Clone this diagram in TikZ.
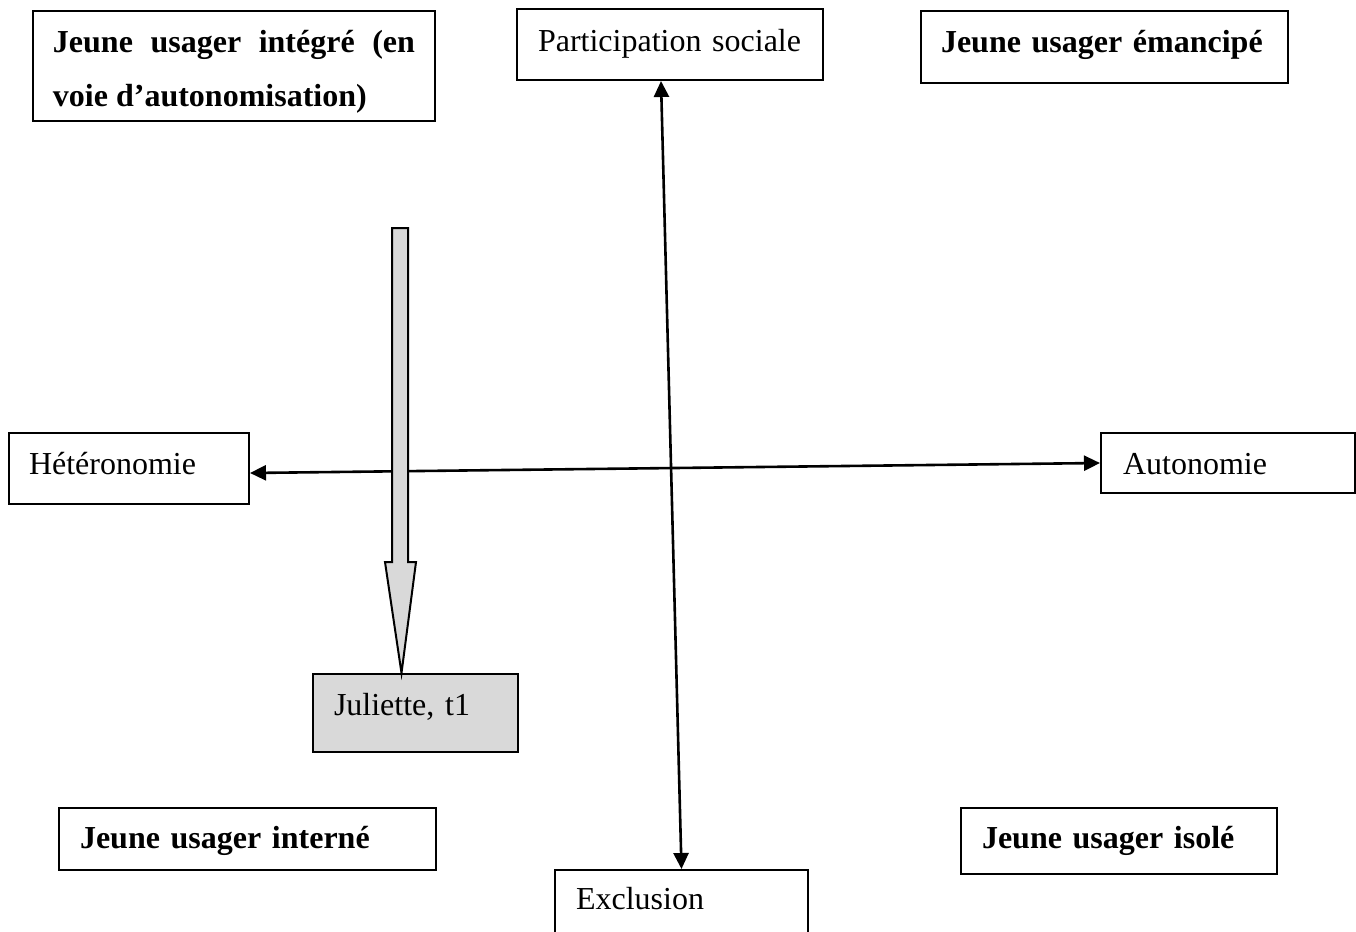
\documentclass[tikz,border=0pt]{standalone}
\usepackage{fontspec}
\setmainfont{Liberation Serif}
\usetikzlibrary{arrows.meta}
\definecolor{arrowgray}{HTML}{D9D9D9}
\begin{document}
\begin{tikzpicture}[x=0.5pt,y=-0.5pt,
  box/.style={draw, line width=1pt, anchor=north west, inner ysep=0pt, align=left,
    font=\fontsize{16}{27}\selectfont},
  axis/.style={line width=1.3pt, {Triangle[length=8pt,width=7.5pt]}-{Triangle[length=8pt,width=7.5pt]}}]
\useasboundingbox (0,0) rectangle (1356,932);
% the four types
\node[box, align=justify, text width=181pt, inner xsep=10pt, text height=20.5pt, text depth=34.5pt] (integre) at (32,10)
  {\textbf{Jeune usager intégré (en\linebreak voie d’autonomisation)}};
\node[box, text width=163.5pt, inner xsep=10pt, text height=20.5pt, text depth=15.5pt] (emancipe) at (920,10)
  {\textbf{Jeune usager émancipé}};
\node[box, text width=167.5pt, inner xsep=10.5pt, text height=20pt, text depth=11pt] (interne) at (58,807)
  {\textbf{Jeune usager interné}};
\node[box, text width=137pt, inner xsep=10.5pt, text height=20pt, text depth=13pt] (isole) at (960,807)
  {\textbf{Jeune usager isolé}};
% the ends of the axes
\node[box, text width=132pt, inner xsep=10.5pt, text height=21pt, text depth=14.5pt] (part) at (516,8) {Participation sociale};
\node[box, text width=105.5pt, inner xsep=10.5pt, text height=19.5pt, text depth=18.5pt] (excl) at (554,869) {Exclusion};
\node[box, text width=100pt, inner xsep=10pt, text height=20.5pt, text depth=15pt] (heter) at (8,432) {Hétéronomie};
\node[box, text width=105pt, inner xsep=11pt, text height=20.5pt, text depth=9.5pt] (auton) at (1100,432) {Autonomie};
% Juliette
\node[box, fill=arrowgray, text width=81.5pt, inner xsep=10.5pt, text height=20.5pt, text depth=18.5pt] (jul) at (312,673) {Juliette, t1};
\draw[axis] ([xshift=-4.5pt]part.south)--(excl.north);
\draw[axis] ([yshift=-2.25pt]heter.east)--(auton.west);
\coordinate (tip) at ([xshift=-7pt]jul.north);
\draw[line width=1pt, fill=arrowgray, line join=miter]
  (392,228)--(408,228)--(408,562)--(416,562)--(tip)--(385,562)--(392,562)--cycle;
\end{tikzpicture}
\end{document}
